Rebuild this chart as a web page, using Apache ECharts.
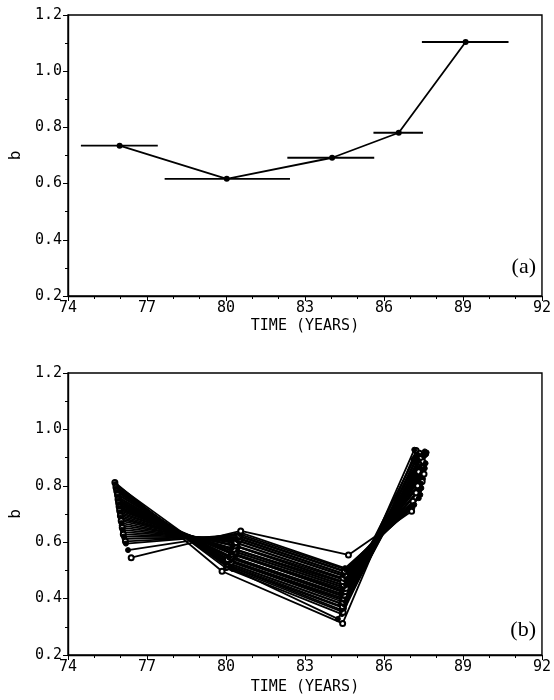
<!DOCTYPE html>
<html>
<head>
<meta charset="utf-8">
<script src="https://cdn.jsdelivr.net/npm/echarts@6/dist/echarts.min.js"></script>
<style>html,body{margin:0;padding:0;background:#fff}#c{width:554px;height:700px}</style>
</head>
<body>
<div id="c"></div>
<script>
// Panel (a): b-value estimates with time windows
const aTime = [75.96, 80.03, 84.03, 86.56, 89.10];
const aB    = [0.735, 0.617, 0.692, 0.781, 1.104];
const aLow  = [74.49, 77.67, 82.33, 85.60, 87.44];
const aHigh = [77.41, 82.43, 85.63, 87.48, 90.73];

// Panel (b): bootstrap curves, four time points each
const t1 = [75.78,75.80,75.81,75.82,75.83,75.84,75.85,75.86,75.87,75.88,75.88,75.90,75.90,75.91,75.92,75.92,75.93,75.94,75.94,75.95,75.96,75.96,75.97,75.98,75.99,76.00,76.01,76.02,76.03,76.04,76.06,76.07,76.09,76.10,76.12,76.15,76.18,76.20,76.28,76.40];
const b1 = [0.812,0.806,0.800,0.795,0.790,0.786,0.782,0.778,0.772,0.768,0.762,0.757,0.752,0.748,0.744,0.740,0.735,0.731,0.727,0.722,0.717,0.712,0.706,0.700,0.694,0.688,0.682,0.676,0.668,0.660,0.652,0.644,0.636,0.628,0.620,0.612,0.603,0.595,0.572,0.545];
const t2 = [79.85,80.25,80.00,80.05,80.12,80.02,80.08,80.15,80.05,80.20,80.10,80.18,80.06,80.25,80.12,80.20,80.15,80.40,80.24,80.32,80.18,80.36,80.26,80.42,80.30,80.22,80.45,80.34,80.28,80.46,80.38,80.50,80.44,80.52,80.48,80.55,80.50,80.54,80.58,80.56];
const b2 = [0.497,0.505,0.508,0.512,0.515,0.518,0.521,0.524,0.527,0.530,0.533,0.536,0.539,0.542,0.545,0.548,0.551,0.554,0.557,0.560,0.563,0.566,0.569,0.572,0.575,0.579,0.583,0.587,0.591,0.595,0.599,0.603,0.607,0.611,0.615,0.619,0.623,0.628,0.633,0.640];
const t3 = [84.43,84.25,84.40,84.45,84.38,84.48,84.42,84.50,84.36,84.44,84.52,84.40,84.46,84.55,84.42,84.50,84.38,84.47,84.53,84.41,84.49,84.56,84.44,84.51,84.46,84.54,84.48,84.43,84.55,84.50,84.45,84.56,84.49,84.54,84.47,84.55,84.50,84.56,84.52,84.65];
const b3 = [0.312,0.328,0.345,0.352,0.360,0.366,0.372,0.378,0.383,0.388,0.392,0.397,0.401,0.405,0.409,0.413,0.417,0.421,0.425,0.429,0.433,0.437,0.441,0.445,0.449,0.453,0.457,0.461,0.465,0.469,0.473,0.477,0.481,0.485,0.489,0.494,0.498,0.503,0.508,0.555];
const t4 = [87.22,87.62,87.15,87.35,87.55,87.28,87.45,87.60,87.18,87.40,87.52,87.30,87.48,87.12,87.58,87.35,87.42,87.25,87.50,87.38,87.55,87.32,87.45,87.20,87.52,87.36,87.48,87.45,87.30,87.40,87.28,87.42,87.35,87.22,87.38,87.32,87.10,87.15,87.08,87.05];
const b4 = [0.925,0.918,0.928,0.915,0.922,0.910,0.905,0.912,0.900,0.897,0.905,0.890,0.885,0.893,0.880,0.875,0.870,0.878,0.865,0.858,0.862,0.850,0.845,0.838,0.842,0.830,0.825,0.815,0.820,0.808,0.800,0.792,0.785,0.775,0.768,0.756,0.745,0.733,0.722,0.710];

const xTicks = [74, 77, 80, 83, 86, 89, 92];
const yTicks = [0.2, 0.4, 0.6, 0.8, 1.0, 1.2];

const chart = echarts.init(document.getElementById('c'), null, {renderer: 'canvas'});
const mono = 'DejaVu Sans Mono';

function xAx(idx, gap) {
  return {
    type: 'value', gridIndex: idx, min: xTicks[0], max: xTicks[xTicks.length - 1], interval: 3,
    name: 'TIME (YEARS)', nameLocation: 'middle', nameGap: gap,
    nameTextStyle: {fontFamily: mono, fontSize: 15, color: '#000'},
    axisLine: {show: true, onZero: false, lineStyle: {color: '#000', width: 1.4}},
    axisTick: {show: true, inside: false, length: 5, lineStyle: {color: '#000'}},
    minorTick: {show: true, splitNumber: 3, length: 3, lineStyle: {color: '#000'}},
    axisLabel: {fontFamily: mono, fontSize: 15, color: '#000', margin: 5},
    splitLine: {show: false}
  };
}
function yAx(idx) {
  return {
    type: 'value', gridIndex: idx, min: yTicks[0], max: yTicks[yTicks.length - 1], interval: 0.2,
    name: 'b', nameLocation: 'middle', nameGap: 44, nameRotate: 90,
    nameTextStyle: {fontFamily: mono, fontSize: 16, color: '#000'},
    axisLine: {show: true, onZero: false, lineStyle: {color: '#000', width: 1.4}},
    axisTick: {show: true, inside: false, length: 5, lineStyle: {color: '#000'}},
    minorTick: {show: true, splitNumber: 2, length: 3, lineStyle: {color: '#000'}},
    axisLabel: {fontFamily: mono, fontSize: 15, color: '#000', margin: 6,
      formatter: v => v.toFixed(1)},
    splitLine: {show: false}
  };
}

const series = [];
series.push({
  type: 'custom', xAxisIndex: 0, yAxisIndex: 0,
  data: aTime.map((t, i) => [aLow[i], aHigh[i], aB[i]]),
  encode: {x: [0, 1], y: 2},
  renderItem: (params, api) => {
    const p1 = api.coord([api.value(0), api.value(2)]);
    const p2 = api.coord([api.value(1), api.value(2)]);
    return {type: 'line', shape: {x1: p1[0], y1: p1[1], x2: p2[0], y2: p2[1]},
      style: {stroke: '#000', lineWidth: 1.8}};
  },
  silent: true
});
series.push({
  type: 'line', xAxisIndex: 0, yAxisIndex: 0,
  data: aTime.map((t, i) => [t, aB[i]]),
  symbol: 'circle', symbolSize: 6,
  lineStyle: {color: '#000', width: 1.8}, itemStyle: {color: '#000'},
  silent: true
});
for (let i = 0; i < t1.length; i++) {
  const empty = (i % 3 === 0);
  series.push({
    type: 'line', xAxisIndex: 1, yAxisIndex: 1,
    data: [[t1[i], b1[i]], [t2[i], b2[i]], [t3[i], b3[i]], [t4[i], b4[i]]],
    symbol: empty ? 'emptyCircle' : 'circle', symbolSize: 5,
    lineStyle: {color: '#000', width: 1.8},
    itemStyle: {color: '#000', borderColor: '#000', borderWidth: 1},
    silent: true
  });
}

chart.setOption({
  animation: false,
  backgroundColor: '#fff',
  grid: [
    {left: 67, right: 12, top: 15, height: 281, show: true, borderColor: '#000', borderWidth: 1.4, backgroundColor: 'transparent'},
    {left: 67, right: 12, top: 373, height: 282, show: true, borderColor: '#000', borderWidth: 1.4, backgroundColor: 'transparent'}
  ],
  xAxis: [xAx(0, 23), xAx(1, 25)],
  yAxis: [yAx(0), yAx(1)],
  graphic: [
    {type: 'text', right: 18, top: 256, style: {text: '(a)', font: '22px "Liberation Serif"', fill: '#000'}},
    {type: 'text', right: 18, top: 619, style: {text: '(b)', font: '22px "Liberation Serif"', fill: '#000'}}
  ],
  series: series
});
</script>
</body>
</html>
